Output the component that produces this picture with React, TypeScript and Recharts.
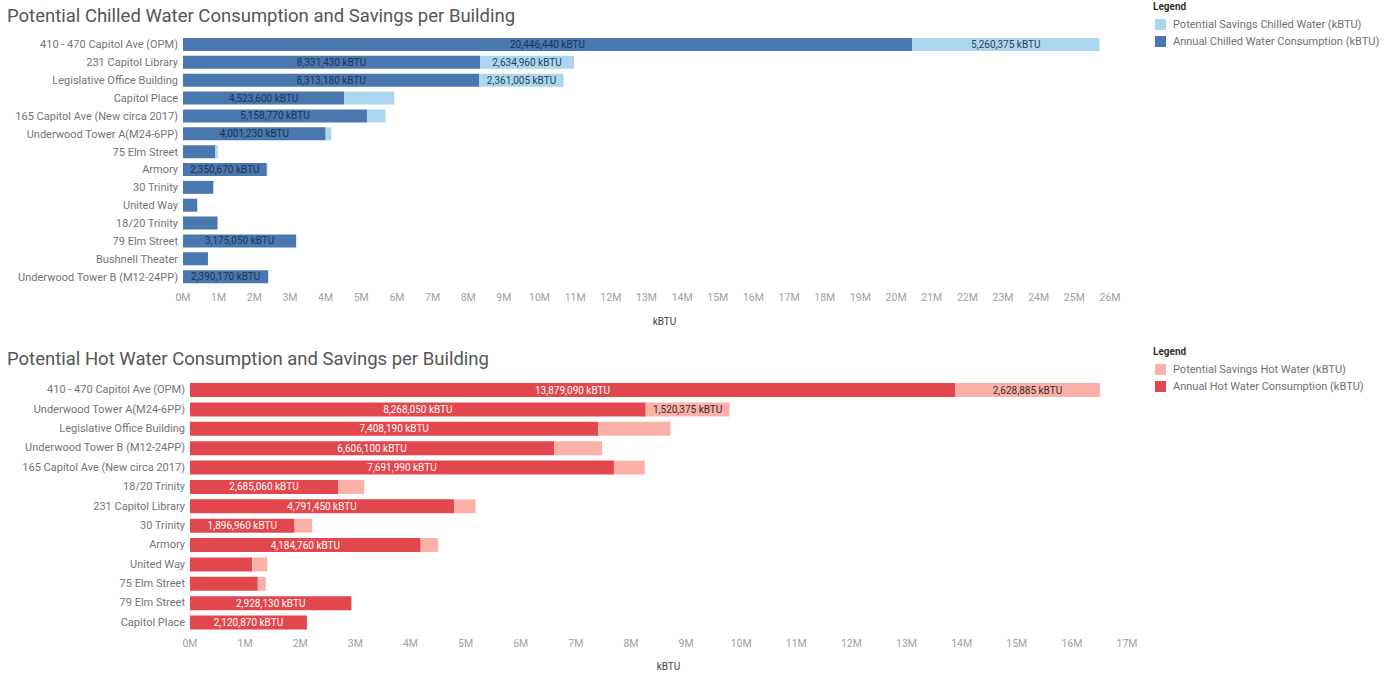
import React from 'react';
import { BarChart, Bar, XAxis, YAxis, Legend, LabelList } from 'recharts';

const chilledBuildings = [
  '410 - 470 Capitol Ave (OPM)',
  '231 Capitol Library',
  'Legislative Office Building',
  'Capitol Place',
  '165 Capitol Ave (New circa 2017)',
  'Underwood Tower A(M24-6PP)',
  '75 Elm Street',
  'Armory',
  '30 Trinity',
  'United Way',
  '18/20 Trinity',
  '79 Elm Street',
  'Bushnell Theater',
  'Underwood Tower B (M12-24PP)',
];
const chilledConsumption = [20446440, 8331430, 8313180, 4523600, 5158770, 4001230, 906000, 2350670, 850000, 400000, 970000, 3175050, 700000, 2390170];
const chilledSavings = [5260375, 2634960, 2361005, 1400000, 520000, 160000, 70000, 20000, 0, 0, 0, 0, 0, 0];
const chilledTicksM = [0, 1, 2, 3, 4, 5, 6, 7, 8, 9, 10, 11, 12, 13, 14, 15, 16, 17, 18, 19, 20, 21, 22, 23, 24, 25, 26];

const hotBuildings = [
  '410 - 470 Capitol Ave (OPM)',
  'Underwood Tower A(M24-6PP)',
  'Legislative Office Building',
  'Underwood Tower B (M12-24PP)',
  '165 Capitol Ave (New circa 2017)',
  '18/20 Trinity',
  '231 Capitol Library',
  '30 Trinity',
  'Armory',
  'United Way',
  '75 Elm Street',
  '79 Elm Street',
  'Capitol Place',
];
const hotConsumption = [13879090, 8268050, 7408190, 6606100, 7691990, 2685060, 4791450, 1896960, 4184760, 1130000, 1230000, 2928130, 2120870];
const hotSavings = [2628885, 1520375, 1310000, 870000, 560000, 477000, 390000, 320000, 320000, 270000, 145000, 0, 0];
const hotTicksM = [0, 1, 2, 3, 4, 5, 6, 7, 8, 9, 10, 11, 12, 13, 14, 15, 16, 17];

const font = 'Roboto, "Noto Sans", sans-serif';
const MIN_LABEL_WIDTH = 76;

const fmt = (v: number) => `${v.toLocaleString('en-US')} kBTU`;

const makeLabel = (color: string) => (props: any) => {
  const { x, y, width, height, value } = props;
  if (!value || width < MIN_LABEL_WIDTH) return null;
  return (
    <text
      x={x + width / 2}
      y={y + height / 2}
      textAnchor="middle"
      dominantBaseline="central"
      fill={color}
      fontSize={10}
      fontFamily={font}
    >
      {fmt(value)}
    </text>
  );
};

// category labels on one line, right aligned next to the bars
const BuildingTick = (props: any) => {
  const { x, y, payload } = props;
  return (
    <text x={x} y={y} textAnchor="end" dominantBaseline="central" fill="#747474" fontSize={11} fontFamily={font}>
      {payload.value}
    </text>
  );
};

const LegendBox = ({ payload }: any) => (
  <div style={{ fontFamily: font }}>
    <div style={{ fontSize: 10, fontWeight: 700, color: '#333', lineHeight: '12px', marginBottom: 3 }}>Legend</div>
    {[...(payload || [])].reverse().map((p: any) => (
      <div key={p.value} style={{ display: 'flex', alignItems: 'center', height: 17, fontSize: 11, color: '#707070' }}>
        <span style={{ width: 11, height: 11, background: p.color, marginLeft: 2, marginRight: 7, display: 'inline-block' }} />
        {p.value}
      </div>
    ))}
  </div>
);

interface ChartProps {
  buildings: string[];
  consumption: number[];
  savings: number[];
  ticksM: number[];
  height: number;
  margin: { top: number; right: number; bottom: number; left: number };
  yWidth: number;
  barSize: number;
  darkColor: string;
  lightColor: string;
  darkText: string;
  lightText: string;
  consumptionName: string;
  savingsName: string;
  axisLabelShift: number;
  axisLabelDy: number;
  legendTop: number;
}

function WaterChart(p: ChartProps) {
  const data = p.buildings.map((name, i) => ({
    name,
    consumption: p.consumption[i],
    savings: p.savings[i],
  }));
  const ticks = p.ticksM.map((m) => m * 1e6);
  return (
    <BarChart width={1393} height={p.height} data={data} layout="vertical" margin={p.margin} barSize={p.barSize}>
      <XAxis
        type="number"
        domain={[0, ticks[ticks.length - 1]]}
        ticks={ticks}
        interval={0}
        tickFormatter={(v: number) => `${v / 1e6}M`}
        axisLine={false}
        tickLine={false}
        tick={{ fill: '#a0a0a0', fontSize: 10.5, fontFamily: font }}
        height={42}
        label={({ viewBox }: any) => (
          <text
            x={viewBox.x + viewBox.width / 2 + p.axisLabelShift}
            y={viewBox.y + p.axisLabelDy}
            textAnchor="middle"
            fill="#444"
            fontSize={10}
            fontFamily={font}
          >
            kBTU
          </text>
        )}
      />
      <YAxis
        type="category"
        dataKey="name"
        width={p.yWidth}
        axisLine={false}
        tickLine={false}
        tickSize={3}
        tickMargin={2}
        interval={0}
        tick={BuildingTick}
      />
      <Legend
        layout="vertical"
        align="center"
        verticalAlign="middle"
        wrapperStyle={{ top: p.legendTop, left: 1153, width: 240 }}
        content={LegendBox}
      />
      <Bar dataKey="consumption" name={p.consumptionName} stackId="a" fill={p.darkColor} isAnimationActive={false}>
        <LabelList dataKey="consumption" content={makeLabel(p.darkText)} />
      </Bar>
      <Bar dataKey="savings" name={p.savingsName} stackId="a" fill={p.lightColor} isAnimationActive={false}>
        <LabelList dataKey="savings" content={makeLabel(p.lightText)} />
      </Bar>
    </BarChart>
  );
}

const titleStyle: React.CSSProperties = {
  position: 'absolute',
  left: 7,
  fontFamily: font,
  fontSize: 18.5,
  color: '#555',
  lineHeight: '22px',
  whiteSpace: 'nowrap',
};

export default function App() {
  return (
    <div style={{ position: 'absolute', left: 0, top: 0, width: 1393, height: 675, background: '#fff', overflow: 'hidden' }}>
      <div style={{ position: 'absolute', left: 0, top: 0 }}>
        <WaterChart
          buildings={chilledBuildings}
          consumption={chilledConsumption}
          savings={chilledSavings}
          ticksM={chilledTicksM}
          height={340}
          margin={{ top: 36, right: 283, bottom: 12, left: 0 }}
          yWidth={183}
          barSize={13}
          darkColor="#4a77b0"
          lightColor="#acd6ee"
          darkText="#1e3552"
          lightText="#2a3f5a"
          consumptionName="Annual Chilled Water Consumption (kBTU)"
          savingsName="Potential Savings Chilled Water (kBTU)"
          axisLabelShift={18}
          axisLabelDy={39}
          legendTop={1}
        />
      </div>
      <div style={{ ...titleStyle, top: 5 }}>Potential Chilled Water Consumption and Savings per Building</div>
      <div style={{ position: 'absolute', left: 0, top: 340 }}>
        <WaterChart
          buildings={hotBuildings}
          consumption={hotConsumption}
          savings={hotSavings}
          ticksM={hotTicksM}
          height={335}
          margin={{ top: 40, right: 266, bottom: 1, left: 0 }}
          yWidth={190}
          barSize={14}
          darkColor="#e2474d"
          lightColor="#fbb1a8"
          darkText="#ffffff"
          lightText="#3a2a2a"
          consumptionName="Annual Hot Water Consumption (kBTU)"
          savingsName="Potential Savings Hot Water (kBTU)"
          axisLabelShift={10}
          axisLabelDy={38}
          legendTop={6}
        />
      </div>
      <div style={{ ...titleStyle, top: 348 }}>Potential Hot Water Consumption and Savings per Building</div>
    </div>
  );
}
